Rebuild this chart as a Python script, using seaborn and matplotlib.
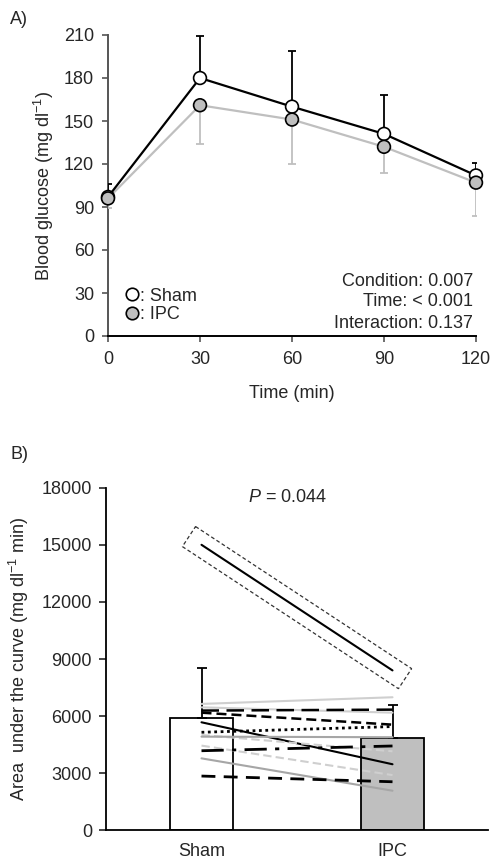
import numpy as np
import pandas as pd
import matplotlib
matplotlib.use('Agg')
import matplotlib.pyplot as plt
import seaborn as sns
from matplotlib.lines import Line2D
from matplotlib.patches import Polygon

# ---------------- data ----------------
time_min = [0, 30, 60, 90, 120]
sham_glucose = [97, 180, 160, 141, 112]
sham_glucose_sd = [9, 29, 39, 27, 9]
ipc_glucose = [96, 161, 151, 132, 107]
ipc_glucose_sd = [7, 27, 31, 18, 23]

groups = ['Sham', 'IPC']
auc_mean = [5920, 4870]
auc_sd = [2630, 1700]

auc_sham_ind = [15000, 6640, 6460, 6290, 6180, 5675, 5150, 5010, 4920, 4450, 4180, 3780, 2850]
auc_ipc_ind = [8400, 6990, 6180, 6340, 5550, 3470, 5450, 4150, 4890, 2900, 4430, 2080, 2550]

stats_lines = ['Condition: 0.007', 'Time: < 0.001', 'Interaction: 0.137']
stats_y = [38, 24, 9]

# ---------------- styles ----------------
BLK = 'black'
GRY = '#a6a6a6'
LGR = '#cfcfcf'
ind_styles = [
    (BLK, '-', 1.5),
    (LGR, '-', 1.5),
    (LGR, '-', 1.5),
    (BLK, (0, (7, 3)), 1.8),
    (BLK, (0, (4, 2)), 1.8),
    (BLK, '-', 1.5),
    (BLK, (0, (1, 1.3)), 2.0),
    (LGR, (0, (4, 2)), 1.5),
    (GRY, '-', 1.5),
    (LGR, (0, (4, 2)), 1.5),
    (BLK, (0, (8, 3, 1.5, 3)), 2.0),
    (GRY, '-', 1.5),
    (BLK, (0, (5, 3)), 2.0),
]

FS = 13
sns.set_style('ticks')
plt.rcParams['font.family'] = ['Liberation Sans', 'DejaVu Sans']
plt.rcParams['mathtext.fontset'] = 'custom'
plt.rcParams['mathtext.rm'] = 'Liberation Sans'
plt.rcParams['mathtext.it'] = 'Liberation Sans:italic'
plt.rcParams['font.size'] = FS

W, H = 493, 863
fig = plt.figure(figsize=(W / 100, H / 100), dpi=100)

# ================= Panel A =================
axA = fig.add_axes([108 / W, 1 - 336 / H, 368 / W, 301 / H])
dfA = pd.DataFrame({
    'time': time_min * 2,
    'glucose': sham_glucose + ipc_glucose,
    'sd': sham_glucose_sd + ipc_glucose_sd,
    'cond': ['Sham'] * len(time_min) + ['IPC'] * len(time_min),
})
sns.lineplot(data=dfA, x='time', y='glucose', hue='cond',
             palette={'Sham': 'black', 'IPC': '#bfbfbf'}, hue_order=['IPC', 'Sham'],
             linewidth=1.6, legend=False, ax=axA, zorder=2)
axA.errorbar(time_min, sham_glucose, yerr=[np.zeros(len(time_min)), sham_glucose_sd],
             fmt='none', ecolor='black', elinewidth=1.3, capsize=3, capthick=1.3, zorder=3)
axA.errorbar(time_min, ipc_glucose, yerr=[ipc_glucose_sd, np.zeros(len(time_min))],
             fmt='none', ecolor='#bfbfbf', elinewidth=1.3, capsize=3, capthick=1.3, zorder=3)
sns.scatterplot(data=dfA, x='time', y='glucose', hue='cond', hue_order=['Sham', 'IPC'],
                palette={'Sham': 'white', 'IPC': '#bfbfbf'}, s=85, edgecolor='black',
                linewidth=1.2, legend=False, ax=axA, zorder=4, clip_on=False)
axA.set_xlim(0, 120)
axA.set_ylim(0, 210)
axA.set_xticks(time_min)
axA.set_yticks(np.arange(0, 211, 30))
axA.set_xlabel('Time (min)', fontsize=FS, labelpad=12)
axA.set_ylabel('Blood glucose (mg dl$^{-1}$)', fontsize=FS, labelpad=6)
axA.tick_params(axis='both', labelsize=FS, length=4, width=1.2, color='#555555')
axA.tick_params(axis='y', pad=6)
axA.tick_params(axis='x', pad=7)
for s in ['top', 'right']:
    axA.spines[s].set_visible(False)
axA.spines['left'].set_color('#555555')
axA.spines['left'].set_linewidth(1.4)
axA.spines['bottom'].set_color('black')
axA.spines['bottom'].set_linewidth(1.4)

for txt, yy in zip(stats_lines, stats_y):
    axA.text(119, yy, txt, ha='right', va='center', fontsize=FS)

handles = [Line2D([], [], marker='o', ls='none', markersize=9, markerfacecolor='white',
                  markeredgecolor='black', markeredgewidth=1.2),
           Line2D([], [], marker='o', ls='none', markersize=9, markerfacecolor='#bfbfbf',
                  markeredgecolor='black', markeredgewidth=1.2)]
axA.legend(handles, [': Sham', ': IPC'], loc='lower left', bbox_to_anchor=(0.01, 0.0),
           frameon=False, handlelength=0.8, handletextpad=0.05, labelspacing=0.1,
           borderaxespad=0.3, fontsize=FS)

fig.text(10 / W, 1 - 20 / H, 'A)', fontsize=FS, va='center', ha='left')

# ================= Panel B =================
axB = fig.add_axes([106 / W, 1 - 830.3 / H, 382 / W, 342.6 / H])
sns.barplot(x=groups, y=auc_mean, hue=groups, palette={'Sham': 'white', 'IPC': '#bfbfbf'},
            edgecolor='black', linewidth=1.3, width=0.33, errorbar=None, legend=False,
            ax=axB, zorder=1)
axB.errorbar([0, 1], auc_mean, yerr=[np.zeros(2), auc_sd], fmt='none', ecolor='black',
             elinewidth=1.3, capsize=3.5, capthick=1.3, zorder=2)
for i, (a, b) in enumerate(zip(auc_sham_ind, auc_ipc_ind)):
    c, ls, lw = ind_styles[i]
    axB.plot([0, 1], [a, b], color=c, linestyle=ls, linewidth=lw, zorder=3)

axB.set_xlim(-0.5, 1.5)
axB.set_ylim(0, 18000)
axB.set_yticks(np.arange(0, 18001, 3000))
axB.set_xlabel('')
axB.set_ylabel('Area  under the curve (mg dl$^{-1}$ min)', fontsize=FS, labelpad=8)
axB.tick_params(axis='y', labelsize=FS, length=5, width=1.2, pad=5)
axB.tick_params(axis='x', labelsize=FS, length=0, pad=9)
for s in ['top', 'right']:
    axB.spines[s].set_visible(False)
for s in ['left', 'bottom']:
    axB.spines[s].set_color('black')
    axB.spines[s].set_linewidth(1.3)

axB.text(0.45, 17500, '$P$ = 0.044', ha='center', va='center', fontsize=FS)

# dashed box around the outlying subject
fig.canvas.draw()
p0 = axB.transData.transform((0, auc_sham_ind[0]))
p1 = axB.transData.transform((1, auc_ipc_ind[0]))
u = (p1 - p0) / np.hypot(*(p1 - p0))
n = np.array([-u[1], u[0]])
a_ext, b_ext = 15, 12
corners = [p0 - a_ext * u + b_ext * n, p1 + a_ext * u + b_ext * n,
           p1 + a_ext * u - b_ext * n, p0 - a_ext * u - b_ext * n]
poly = Polygon(corners, closed=True, fill=False, edgecolor='#333333', linewidth=0.9,
               linestyle=(0, (3, 2)), transform=None, zorder=4)
fig.add_artist(poly)

fig.text(10 / W, 1 - 454 / H, 'B)', fontsize=FS, va='center', ha='left')

fig.savefig('out.png', dpi=100)
